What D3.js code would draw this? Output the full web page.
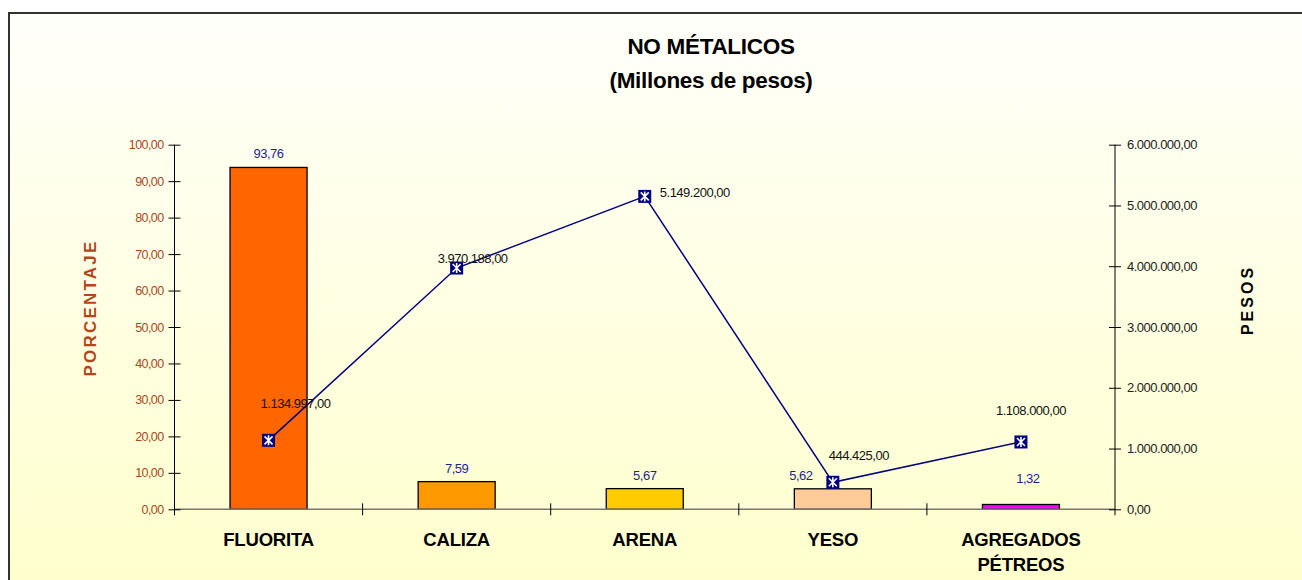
<!DOCTYPE html>
<html><head><meta charset="utf-8">
<script src="https://cdn.jsdelivr.net/npm/d3@7"></script>
<style>
html,body{margin:0;padding:0;background:#fff;}
svg{display:block;font-family:Arial,"Liberation Sans",sans-serif;}
</style></head>
<body>
<svg id="c" width="1302" height="580"></svg>
<script>
const categories = ["FLUORITA","CALIZA","ARENA","YESO","AGREGADOS PÉTREOS"];
const percentValues = [93.76, 7.59, 5.67, 5.62, 1.32];
const pesosValues = [1134997, 3970188, 5149200, 444425, 1108000];
const barColors = ["#FF6600","#FF9900","#FFCC00","#FFCC99","#FF00FF"];
const leftTicks = [0,10,20,30,40,50,60,70,80,90,100];
const rightTicks = [0,1000000,2000000,3000000,4000000,5000000,6000000];
// label offsets (dx, dy) relative to anchor
const pesosLabelOffsets = [[27,-36],[16,-9],[50,-3],[26,-26],[10,-31]];
const pctLabelOffsets = [[0,0],[0,0],[0,0],[-32,0],[7,-12]];

const svg = d3.select("#c");
const defs = svg.append("defs");
const grad = defs.append("linearGradient").attr("id","bg").attr("x1",0).attr("y1",0).attr("x2",0).attr("y2",1);
grad.append("stop").attr("offset","0%").attr("stop-color","#FFFFFA");
grad.append("stop").attr("offset","100%").attr("stop-color","#FFFFCC");

svg.append("rect").attr("x",0).attr("y",0).attr("width",1302).attr("height",580).attr("fill","#fff");
svg.append("rect").attr("x",9).attr("y",13).attr("width",1300).attr("height",580).attr("fill","url(#bg)")
  .attr("stroke","#333").attr("stroke-width",2);

const L = 174.5, R = 1115, T = 144.7, B = 509.3;
const x = d3.scaleBand().domain(categories).range([L,R]).paddingInner(0).paddingOuter(0);
const yL = d3.scaleLinear().domain([0,100]).range([B,T]);
const yR = d3.scaleLinear().domain([0,6000000]).range([B,T]);

const fmtPct = v => d3.format(".2f")(v).replace(".",",");
const fmtPesos = v => {
  const s = d3.format(",.2f")(v);
  return s.replace(/,/g,"#").replace(".",",").replace(/#/g,".");
};

// title
svg.append("text").attr("x",711).attr("y",54).attr("text-anchor","middle")
  .attr("font-size",22.5).attr("font-weight","bold").attr("letter-spacing","-0.3").text("NO MÉTALICOS");
svg.append("text").attr("x",711).attr("y",88).attr("text-anchor","middle")
  .attr("font-size",22.5).attr("font-weight","bold").attr("letter-spacing","-0.3").text("(Millones de pesos)");

// bars
const bw = 77;
svg.selectAll("rect.bar").data(categories).enter().append("rect").attr("class","bar")
  .attr("x",d=>x(d)+x.bandwidth()/2-bw/2)
  .attr("y",(d,i)=>yL(percentValues[i]))
  .attr("width",bw)
  .attr("height",(d,i)=>B-yL(percentValues[i]))
  .attr("fill",(d,i)=>barColors[i]).attr("stroke","#000").attr("stroke-width",1.3);

// x baseline
svg.append("line").attr("x1",L).attr("x2",R).attr("y1",B).attr("y2",B).attr("stroke","#777").attr("stroke-width",1.5);
// category ticks
const bounds = categories.slice(1).map(c=>x(c));
svg.selectAll("line.ct").data(bounds).enter().append("line")
  .attr("x1",d=>d).attr("x2",d=>d).attr("y1",B-6).attr("y2",B+6).attr("stroke","#000").attr("stroke-width",1);

// left axis
const gL = svg.append("g").attr("transform",`translate(${L},0)`)
  .call(d3.axisLeft(yL).tickValues(leftTicks).tickSize(6).tickSizeOuter(0).tickFormat(fmtPct));
gL.select(".domain").attr("stroke","#000").attr("d",`M0,${T}V${B+6}`);
gL.selectAll(".tick line").attr("x1",-6).attr("x2",6).attr("stroke","#000");
gL.selectAll(".tick text").attr("x",-11).attr("font-size",12.5).attr("fill","#A8481C")
  .attr("font-family","Arial,'Liberation Sans',sans-serif").attr("letter-spacing","-0.6");

// right axis
const gR = svg.append("g").attr("transform",`translate(${R},0)`)
  .call(d3.axisRight(yR).tickValues(rightTicks).tickSize(6).tickSizeOuter(0).tickFormat(fmtPesos));
gR.select(".domain").attr("stroke","#000").attr("d",`M0,${T}V${B+6}`);
gR.selectAll(".tick line").attr("x1",-6).attr("x2",6).attr("stroke","#000");
gR.selectAll(".tick text").attr("x",12).attr("font-size",13).attr("fill","#222")
  .attr("font-family","Arial,'Liberation Sans',sans-serif").attr("letter-spacing","-0.5");

// axis titles
svg.append("text").attr("transform","translate(96,308) rotate(-90)").attr("text-anchor","middle")
  .attr("font-size",17).attr("font-weight","bold").attr("fill","#B5461A").attr("letter-spacing","2.2").text("PORCENTAJE");
svg.append("text").attr("transform","translate(1253,300) rotate(-90)").attr("text-anchor","middle")
  .attr("font-size",16).attr("font-weight","bold").attr("fill","#000").attr("letter-spacing","3").text("PESOS");

// category labels
categories.forEach((c,i)=>{
  const words = c === "AGREGADOS PÉTREOS" ? ["AGREGADOS","PÉTREOS"] : [c];
  words.forEach((w,j)=>{
    svg.append("text").attr("x",x(c)+x.bandwidth()/2).attr("y",546+j*25).attr("text-anchor","middle")
      .attr("font-size",18.5).attr("font-weight","bold").attr("letter-spacing","-0.2").text(w);
  });
});

// percent labels
svg.selectAll("text.pl").data(categories).enter().append("text").attr("class","pl")
  .attr("x",(d,i)=>x(d)+x.bandwidth()/2+pctLabelOffsets[i][0])
  .attr("y",(d,i)=>yL(percentValues[i])-9+pctLabelOffsets[i][1])
  .attr("text-anchor","middle").attr("font-size",13).attr("fill","#1F1F8F").attr("letter-spacing","-0.5")
  .text((d,i)=>fmtPct(percentValues[i]));

// line
const line = d3.line().x((d,i)=>x(categories[i])+x.bandwidth()/2).y(d=>yR(d));
svg.append("path").datum(pesosValues).attr("d",line).attr("fill","none").attr("stroke","#000080").attr("stroke-width",1.5);

// markers
const mk = svg.selectAll("g.mk").data(pesosValues).enter().append("g").attr("class","mk")
  .attr("transform",(d,i)=>`translate(${x(categories[i])+x.bandwidth()/2},${yR(d)})`);
mk.append("rect").attr("x",-6.5).attr("y",-6.5).attr("width",13).attr("height",13).attr("fill","#000080");
mk.append("path").attr("d","M-4,-4L4,4M4,-4L-4,4M0,-5V5").attr("stroke","#fff").attr("stroke-width",1.6);

// pesos labels
svg.selectAll("text.vl").data(pesosValues).enter().append("text").attr("class","vl")
  .attr("x",(d,i)=>x(categories[i])+x.bandwidth()/2+pesosLabelOffsets[i][0])
  .attr("y",(d,i)=>yR(d)+pesosLabelOffsets[i][1]+4)
  .attr("text-anchor","middle").attr("font-size",13).attr("fill","#111").attr("letter-spacing","-0.5")
  .text(d=>fmtPesos(d));
</script>
</body></html>
